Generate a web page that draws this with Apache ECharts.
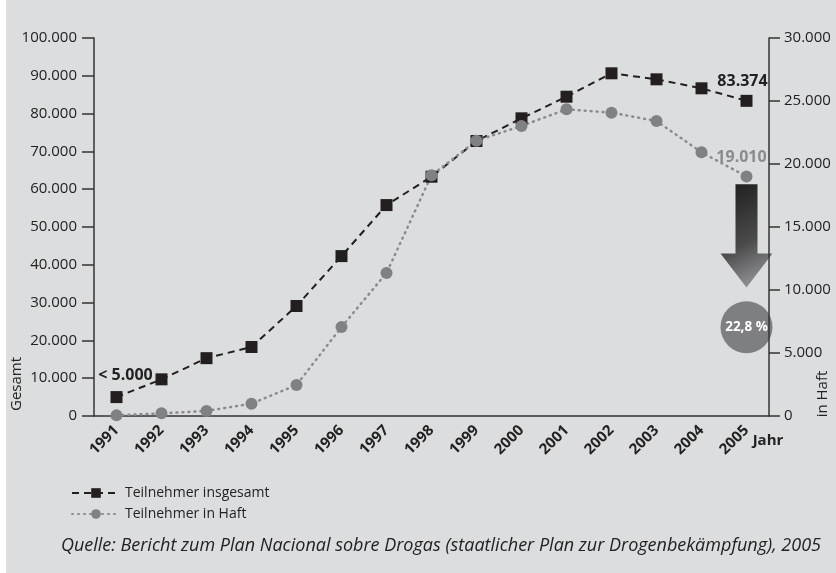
<!DOCTYPE html>
<html>
<head>
<meta charset="utf-8">
<script src="https://cdn.jsdelivr.net/npm/echarts@6/dist/echarts.min.js"></script>
<style>
  html, body { margin: 0; padding: 0; background: #dcdddf; }
  #chart { width: 836px; height: 573px; }
  #edge { position: absolute; left: 0; top: 0; width: 6px; height: 573px; background: #fff; }
</style>
</head>
<body>
<div id="chart"></div>
<div id="edge"></div>
<script>
const years = ['1991', '1992', '1993', '1994', '1995', '1996', '1997', '1998', '1999', '2000', '2001', '2002', '2003', '2004', '2005'];
const gesamt = [5000, 9700, 15300, 18250, 29100, 42300, 55800, 63300, 72750, 78750, 84470, 90660, 89070, 86690, 83374];
const haft = [50, 210, 400, 980, 2460, 7060, 11350, 19100, 21850, 23020, 24340, 24075, 23410, 20930, 19010];
const seriesNames = ['Teilnehmer insgesamt', 'Teilnehmer in Haft'];
const dropLabel = '22,8 %';
const sourceText = 'Quelle: Bericht zum Plan Nacional sobre Drogas (staatlicher Plan zur Drogenbekämpfung), 2005';

const FONT = '"Open Sans", "Noto Sans", sans-serif';
const fmt = v => String(v).replace(/\B(?=(\d{3})+(?!\d))/g, '.');

const chart = echarts.init(document.getElementById('chart'));

const axisLine = { lineStyle: { color: '#333', width: 1.5 } };

const options = {
  backgroundColor: '#dcdddf',
  textStyle: { fontFamily: FONT },
  animation: false,
  grid: { left: 94, right: 67, top: 38, bottom: 157 },
  legend: {
    orient: 'vertical',
    left: 66,
    top: 481,
    itemWidth: 48,
    itemHeight: 12,
    itemGap: 7,
    textStyle: { fontFamily: FONT, fontSize: 14, color: '#222' },
    data: seriesNames
  },
  xAxis: {
    type: 'category',
    data: years,
    axisLine: axisLine,
    axisTick: { alignWithLabel: true, length: 10, lineStyle: { color: '#333', width: 1.5 } },
    axisLabel: { rotate: 45, margin: 12, fontSize: 15, fontWeight: 'bold', color: '#222', fontFamily: FONT }
  },
  yAxis: [
    {
      type: 'value',
      min: 0, max: 100000, interval: 10000,
      splitLine: { show: false },
      axisLine: { show: true, lineStyle: { color: '#333', width: 1.5 } },
      axisTick: { show: true, length: 12, lineStyle: { color: '#333', width: 1.5 } },
      axisLabel: { margin: 17, fontSize: 15, color: '#222', fontFamily: FONT, formatter: fmt }
    },
    {
      type: 'value',
      min: 0, max: 30000, interval: 5000,
      position: 'right',
      splitLine: { show: false },
      axisLine: { show: true, lineStyle: { color: '#333', width: 1.5 } },
      axisTick: { show: true, length: 11, lineStyle: { color: '#333', width: 1.5 } },
      axisLabel: { margin: 15, fontSize: 15, color: '#222', fontFamily: FONT, formatter: fmt }
    }
  ],
  series: [
    {
      name: seriesNames[0],
      type: 'line',
      yAxisIndex: 0,
      symbol: 'rect',
      symbolSize: 12,
      itemStyle: { color: '#231f20' },
      lineStyle: { color: '#231f20', width: 2, type: [7, 5] },
      data: gesamt.map((v, i) => {
        if (i === 0) {
          return { value: v, label: { show: true, position: 'top', offset: [9, -3], formatter: '< ' + fmt(v), fontSize: 16, fontWeight: 'bold', color: '#222', fontFamily: FONT } };
        }
        if (i === gesamt.length - 1) {
          return { value: v, label: { show: true, position: 'top', offset: [-4, 0], formatter: fmt(v), fontSize: 16, fontWeight: 'bold', color: '#222', fontFamily: FONT } };
        }
        return v;
      })
    },
    {
      name: seriesNames[1],
      type: 'line',
      yAxisIndex: 1,
      symbol: 'circle',
      symbolSize: 12,
      itemStyle: { color: '#808184' },
      lineStyle: { color: '#8a8b8e', width: 2.5, type: [1, 5], cap: 'round' },
      data: haft.map((v, i) => {
        if (i === haft.length - 1) {
          return { value: v, label: { show: true, position: 'top', offset: [-5, 0], formatter: fmt(v), fontSize: 16, fontWeight: 'bold', color: '#8a8b8e', fontFamily: FONT } };
        }
        return v;
      })
    }
  ]
};

chart.setOption(options);

// arrow and percentage circle below the last Haft value
const last = years[years.length - 1];
const cx = chart.convertToPixel({ xAxisIndex: 0 }, last);
const py = v => chart.convertToPixel({ yAxisIndex: 1 }, v);
const yTop = py(18400), yHead = py(12900), yTip = py(10200), yCircle = py(7050);

chart.setOption({
  graphic: [
    {
      type: 'polygon',
      shape: {
        points: [
          [cx - 11, yTop], [cx + 11, yTop], [cx + 11, yHead], [cx + 26, yHead],
          [cx, yTip], [cx - 26, yHead], [cx - 11, yHead]
        ]
      },
      style: {
        fill: new echarts.graphic.LinearGradient(0, 0, 1, 1, [
          { offset: 0, color: '#1c1c1c' },
          { offset: 0.55, color: '#4a4a4b' },
          { offset: 1, color: '#a4a5a7' }
        ])
      }
    },
    {
      type: 'circle',
      shape: { cx: cx, cy: yCircle, r: 26 },
      style: { fill: '#7e7f82' }
    },
    {
      type: 'text',
      x: cx, y: yCircle,
      style: { text: dropLabel, fill: '#fff', font: 'bold 13.5px ' + FONT, align: 'center', verticalAlign: 'middle' }
    },
    {
      type: 'text',
      x: 17, y: 384, rotation: Math.PI / 2,
      style: { text: 'Gesamt', fill: '#222', font: '15px ' + FONT, align: 'center', verticalAlign: 'middle' }
    },
    {
      type: 'text',
      x: 823, y: 394, rotation: Math.PI / 2,
      style: { text: 'in Haft', fill: '#222', font: '15px ' + FONT, align: 'center', verticalAlign: 'middle' }
    },
    {
      type: 'text',
      x: 768, y: 441,
      style: { text: 'Jahr', fill: '#222', font: 'bold 15px ' + FONT, align: 'center', verticalAlign: 'middle' }
    },
    {
      type: 'text',
      right: 15, top: 537,
      style: { text: sourceText, fill: '#222', font: 'italic 18px ' + FONT }
    }
  ]
});
</script>
</body>
</html>
